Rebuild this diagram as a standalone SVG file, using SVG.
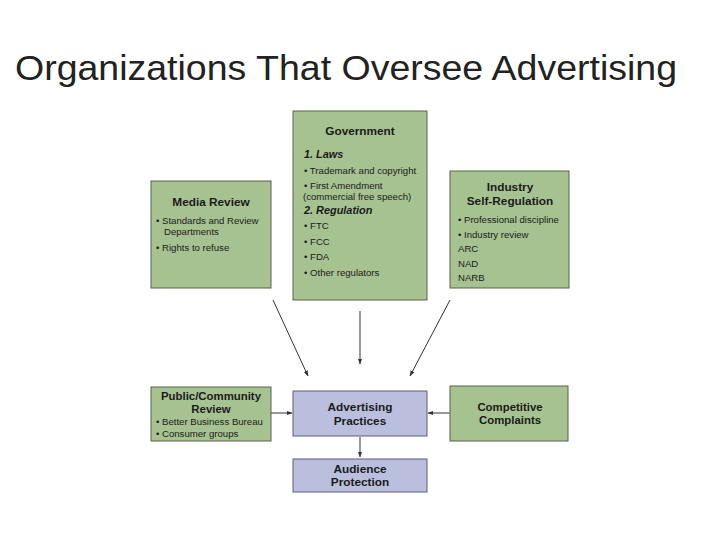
<svg xmlns="http://www.w3.org/2000/svg" width="720" height="540" viewBox="0 0 720 540">
<defs>
<style>
.g{fill:#a7c291;stroke:#55634b;stroke-width:1}
.b{fill:#b9bfdd;stroke:#5a5f78;stroke-width:1}
text{font-family:"Liberation Sans",Arial,sans-serif;fill:#1a1a1a}
.h{font-size:11.8px;font-weight:bold;text-anchor:middle}
.hs{font-size:11.4px;font-weight:bold;text-anchor:middle}
.t{font-size:9.6px}
.i{font-size:10.9px;font-weight:bold;font-style:italic}
.c{stroke:#333;stroke-width:1;fill:none;marker-end:url(#ah)}
</style>
<marker id="ah" viewBox="0 0 10 10" refX="9" refY="5" markerWidth="6" markerHeight="6" orient="auto"><path d="M0,1.5 L10,5 L0,8.5 z" fill="#333"/></marker>
</defs>
<rect width="720" height="540" fill="#fff"/>
<text x="15" y="80" font-family="'Open Sans','Liberation Sans',sans-serif" font-weight="300" font-size="35" textLength="662" lengthAdjust="spacingAndGlyphs" style="fill:#222">Organizations That Oversee Advertising</text>

<g id="connectors">
<line class="c" x1="273" y1="300" x2="308" y2="376"/>
<line class="c" x1="360" y1="311" x2="360" y2="364"/>
<line class="c" x1="450" y1="300" x2="410" y2="376"/>
<line class="c" x1="271" y1="413" x2="292" y2="413"/>
<line class="c" x1="450" y1="413" x2="428" y2="413"/>
<line class="c" x1="360" y1="437" x2="360" y2="457"/>
</g>

<g id="government">
<rect class="g" x="293" y="111" width="134" height="189"/>
<text class="h" x="360" y="135">Government</text>
<text class="i" x="304" y="158">1. Laws</text>
<text class="t" x="304" y="174">• Trademark and copyright</text>
<text class="t" x="304" y="189">• First Amendment</text>
<text class="t" x="303" y="200">(commercial free speech)</text>
<text class="i" x="304" y="214">2. Regulation</text>
<text class="t" x="304" y="229">• FTC</text>
<text class="t" x="304" y="245">• FCC</text>
<text class="t" x="304" y="260">• FDA</text>
<text class="t" x="304" y="276">• Other regulators</text>
</g>

<g id="media-review">
<rect class="g" x="151" y="181" width="120" height="107"/>
<text class="h" x="211" y="206">Media Review</text>
<text class="t" x="156" y="224">• Standards and Review</text>
<text class="t" x="164" y="235">Departments</text>
<text class="t" x="156" y="251">• Rights to refuse</text>
</g>

<g id="industry">
<rect class="g" x="450" y="171" width="119" height="117"/>
<text class="h" x="510" y="191">Industry</text>
<text class="h" x="510" y="205">Self-Regulation</text>
<text class="t" x="458" y="223">• Professional discipline</text>
<text class="t" x="458" y="238">• Industry review</text>
<text class="t" x="458" y="252">ARC</text>
<text class="t" x="458" y="267">NAD</text>
<text class="t" x="458" y="281">NARB</text>
</g>

<g id="public">
<rect class="g" x="151" y="387" width="120" height="54"/>
<text class="hs" x="211" y="400">Public/Community</text>
<text class="hs" x="211" y="413">Review</text>
<text class="t" x="156" y="425">• Better Business Bureau</text>
<text class="t" x="156" y="437">• Consumer groups</text>
</g>

<g id="advertising">
<rect class="b" x="293" y="391" width="134" height="45"/>
<text class="h" x="360" y="411">Advertising</text>
<text class="h" x="360" y="425">Practices</text>
</g>

<g id="competitive">
<rect class="g" x="450" y="386" width="118" height="55"/>
<text class="hs" x="510" y="411">Competitive</text>
<text class="hs" x="510" y="424">Complaints</text>
</g>

<g id="audience">
<rect class="b" x="293" y="459" width="134" height="33"/>
<text class="h" x="360" y="473">Audience</text>
<text class="h" x="360" y="486">Protection</text>
</g>
</svg>
